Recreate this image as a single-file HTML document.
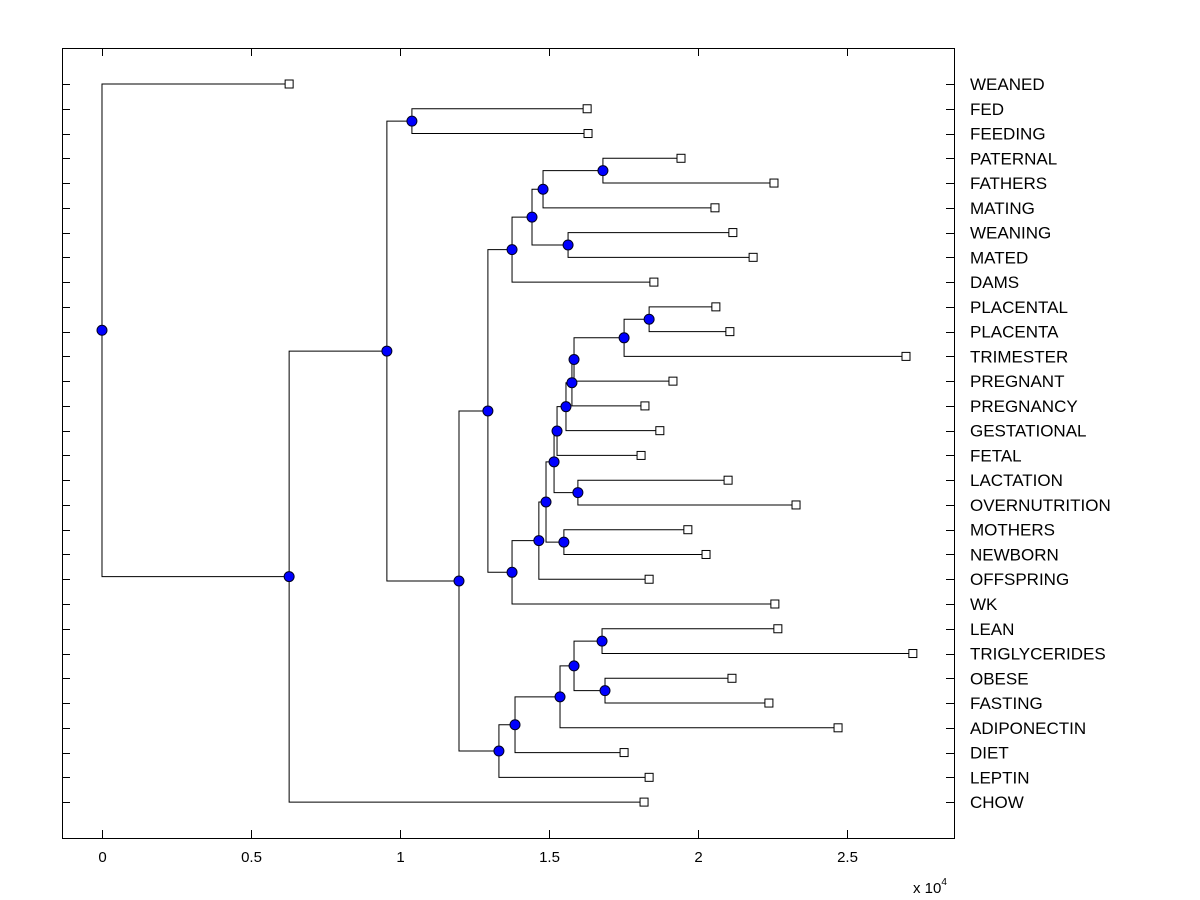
<!DOCTYPE html>
<html><head><meta charset="utf-8"><style>
body{margin:0;background:#fff;}
svg{display:block;font-family:"Liberation Sans",Arial,sans-serif;}
</style></head><body>
<svg id="chart" width="1200" height="900">
<rect x="0" y="0" width="1200" height="900" fill="#fff"/>
<g id="links"></g>
<g id="marks"></g>
<rect x="62.5" y="48.5" width="892" height="790" fill="none" stroke="#000" stroke-width="1"/>
<g id="axes"></g>
<text x="913" y="893" font-size="15">x 10<tspan dy="-8" font-size="10">4</tspan></text>
</svg>
<script>
// leaf names (top to bottom) and leaf heights (x 10^4)
const leafNames = ["WEANED","FED","FEEDING","PATERNAL","FATHERS","MATING","WEANING","MATED","DAMS","PLACENTAL","PLACENTA","TRIMESTER","PREGNANT","PREGNANCY","GESTATIONAL","FETAL","LACTATION","OVERNUTRITION","MOTHERS","NEWBORN","OFFSPRING","WK","LEAN","TRIGLYCERIDES","OBESE","FASTING","ADIPONECTIN","DIET","LEPTIN","CHOW"];
const leafValues = [0.628,1.628,1.631,1.943,2.255,2.057,2.117,2.185,1.852,2.060,2.107,2.698,1.916,1.822,1.872,1.809,2.101,2.329,1.966,2.027,1.836,2.258,2.268,2.721,2.114,2.238,2.470,1.752,1.836,1.819];
// internal nodes: name, height, children (leaf index as number, node name as string)
const nodeNames = ["root","A","B","C","D","E","G","I","J","L","K","H","M","N","O","R","Q","S","T","U","V","W","P","F","X","Y","Z","AA","AB"];
const nodeValues = [0,0.628,0.956,1.040,1.198,1.295,1.376,1.443,1.480,1.681,1.564,1.376,1.466,1.490,1.517,1.597,1.527,1.557,1.577,1.584,1.752,1.836,1.550,1.332,1.386,1.537,1.584,1.678,1.688];
const nodeLeft = [0,"B","C",1,"E","G","I","J","L",3,6,"M","N","O","Q",16,"S","T","U","V","W",9,18,"X","Y","Z","AA",22,24];
const nodeRight = ["A",29,"D",2,"F","H",8,"K",5,4,7,21,20,"P","R",17,15,14,13,12,11,10,19,28,27,26,"AB",23,25];
const xTicks = [0,0.5,1,1.5,2,2.5];

const NS="http://www.w3.org/2000/svg";
const X0=62,X1=954,Y0=48,Y1=838;
const xMin=-0.1342,xMax=2.8591;
const xs=v=>X0+(v-xMin)/(xMax-xMin)*(X1-X0);
const yMin=-1.454,yMax=30.45;
const ys=i=>Y0+(i-yMin)/(yMax-yMin)*(Y1-Y0);
function mk(tag,attrs,parent){const e=document.createElementNS(NS,tag);for(const k in attrs)e.setAttribute(k,attrs[k]);parent.appendChild(e);return e;}
const links=document.getElementById('links'),marks=document.getElementById('marks'),axes=document.getElementById('axes');
const nodeIdx={};nodeNames.forEach((n,i)=>nodeIdx[n]=i);
const memo={};
function pos(c){
  if(typeof c==="number") return {x:xs(leafValues[c]),y:ys(c)};
  if(memo[c]) return memo[c];
  const i=nodeIdx[c];const a=pos(nodeLeft[i]),b=pos(nodeRight[i]);
  const p={x:xs(nodeValues[i]),y:(a.y+b.y)/2,a:a,b:b};memo[c]=p;return p;
}
nodeNames.forEach((n,i)=>{
  const p=pos(n);
  const v=mk('polyline',{points:`${p.a.x},${p.a.y} ${p.x},${p.a.y} ${p.x},${p.b.y} ${p.b.x},${p.b.y}`,fill:'none',stroke:'#000','stroke-width':1},links);
  
  
});
leafNames.forEach((n,i)=>{
  const p=pos(i);
  const r=mk('rect',{x:p.x-4,y:p.y-4,width:8,height:8,fill:'#fff',stroke:'#000','stroke-width':1},marks);
  
  
  const t=mk('text',{x:970,y:p.y+6,'font-size':17},axes);t.textContent=n;
  
  
  const tl=mk('line',{x1:X0,x2:X0+8,y1:Math.round(p.y)+0.5,y2:Math.round(p.y)+0.5,stroke:'#000'},axes);
  
  
  const tr=mk('line',{x1:X1-8,x2:X1,y1:Math.round(p.y)+0.5,y2:Math.round(p.y)+0.5,stroke:'#000'},axes);
  
  
});
nodeNames.forEach((n,i)=>{
  const p=pos(n);
  const c=mk('circle',{cx:p.x,cy:p.y,r:5,fill:'#0000ff',stroke:'#000020','stroke-width':1},marks);
  
  
});
xTicks.forEach(v=>{
  const x=Math.round(xs(v))+0.5;
  const b=mk('line',{x1:x,x2:x,y1:Y1-8,y2:Y1,stroke:'#000'},axes);
  
  
  const t=mk('line',{x1:x,x2:x,y1:Y0,y2:Y0+8,stroke:'#000'},axes);
  
  
  const l=mk('text',{x:x,y:862,'font-size':15,'text-anchor':'middle'},axes);l.textContent=String(v);
  
  
});
</script>
</body></html>
